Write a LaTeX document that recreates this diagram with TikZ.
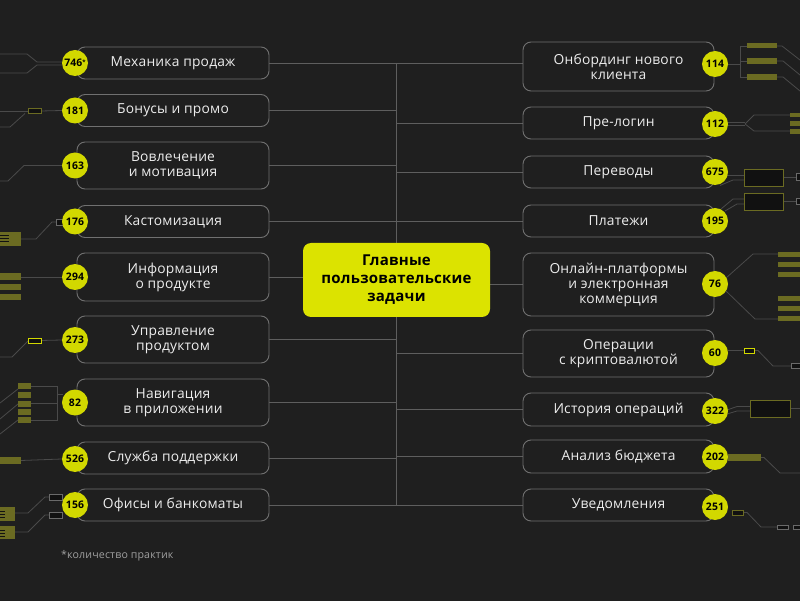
\documentclass[tikz,border=0pt]{standalone}
\usepackage{fontspec}
\setmainfont{Open Sans}[LetterSpace=1.5]
\definecolor{bgc}{HTML}{1F1F1F}
\definecolor{boxc}{HTML}{707070}
\definecolor{linec}{HTML}{5E5E5E}
\definecolor{decoc}{HTML}{4A4A4A}
\definecolor{yelc}{HTML}{D2D800}
\definecolor{cenc}{HTML}{DCE300}
\definecolor{olivec}{HTML}{6B6B22}
\definecolor{darkc}{HTML}{111111}
\definecolor{txtc}{HTML}{EDEDED}
\definecolor{grayframe}{HTML}{6A6A6A}
\definecolor{notec}{HTML}{A0A0A0}
\pgfdeclarelayer{back}
\pgfsetlayers{back,main}
\tikzset{
 box/.style={draw=boxc, line width=0.9pt, rounded corners=8pt, fill=bgc, text=txtc, align=center,
   font=\fontsize{13.8}{15}\selectfont, minimum width=192pt, inner sep=0pt},
 rbox/.style={box, minimum width=191pt},
 num/.style={circle, fill=yelc, minimum size=26pt, inner sep=0pt, text=black,
   font=\bfseries\fontsize{10.4}{10}\selectfont},
 conn/.style={draw=linec, line width=0.9pt},
 deco/.style={draw=decoc, line width=0.8pt},
 olivebar/.style={fill=olivec},
 oliveframe/.style={draw=olivec, line width=0.9pt, fill=darkc},
 yelframe/.style={draw=yelc, line width=0.9pt, fill=darkc},
 grayfr/.style={draw=grayframe, line width=0.9pt, fill=darkc},
 stripe/.style={draw=darkc, line width=0.6pt},
}
\begin{document}
\begin{tikzpicture}[x=1pt,y=-1pt]
\useasboundingbox (0,0) rectangle (800,601);

% ---------- boxes ----------
\node[box, minimum height=32pt] (L1) at (173,63) {Механика продаж};
\node[box, minimum height=32pt] (L2) at (173,110.5) {Бонусы и промо};
\node[box, minimum height=47pt] (L3) at (173,165.5) {Вовлечение\\и мотивация};
\node[box, minimum height=32pt] (L4) at (173,221.5) {Кастомизация};
\node[box, minimum height=48pt] (L5) at (173,277) {Информация\\о продукте};
\node[box, minimum height=47pt] (L6) at (173,339.5) {Управление\\продуктом};
\node[box, minimum height=47pt] (L7) at (173,402.5) {Навигация\\в приложении};
\node[box, minimum height=32pt] (L8) at (173,458) {Служба поддержки};
\node[box, minimum height=32pt] (L9) at (173,505) {Офисы и банкоматы};

\node[rbox, minimum height=49pt] (R1) at (618.5,66.5) {Онбординг нового\\клиента};
\node[rbox, minimum height=32pt] (R2) at (618.5,123) {Пре-логин};
\node[rbox, minimum height=32pt] (R3) at (618.5,172) {Переводы};
\node[rbox, minimum height=32pt] (R4) at (618.5,221) {Платежи};
\node[rbox, minimum height=63pt] (R5) at (618.5,284.5) {Онлайн-платформы\\и электронная\\коммерция};
\node[rbox, minimum height=47pt] (R6) at (618.5,353.5) {Операции\\с криптовалютой};
\node[rbox, minimum height=33pt] (R7) at (618.5,409.5) {История операций};
\node[rbox, minimum height=33pt] (R8) at (618.5,456.5) {Анализ бюджета};
\node[rbox, minimum height=32pt] (R9) at (618.5,505) {Уведомления};

\node[fill=cenc, rounded corners=8pt, minimum width=187pt, minimum height=74pt, inner sep=0pt,
  align=center, text=black, font=\bfseries\fontsize{15}{18}\selectfont] (C) at (396.5,280)
  {Главные\\пользовательские\\задачи};

% ---------- number circles ----------
\node[num] (n1) at (75,63) {746\raisebox{2.5pt}{\fontsize{6}{6}\selectfont*}};
\node[num] (n2) at (75,110.5) {181};
\node[num] (n3) at (75,165.5) {163};
\node[num] (n4) at (75,221.5) {176};
\node[num] (n5) at (75,277) {294};
\node[num] (n6) at (75,340) {273};
\node[num] (n7) at (75,402.5) {82};
\node[num] (n8) at (75,459) {526};
\node[num] (n9) at (75,505) {156};

\node[num] (m1) at (715,64) {114};
\node[num] (m2) at (715,124) {112};
\node[num] (m3) at (715,172) {675};
\node[num] (m4) at (715,221) {195};
\node[num] (m5) at (715,284) {76};
\node[num] (m6) at (715,353) {60};
\node[num] (m7) at (715,411) {322};
\node[num] (m8) at (715,457) {202};
\node[num] (m9) at (715,507) {251};

\node[anchor=west, text=notec, font=\fontsize{10.6}{12}\selectfont, inner sep=0pt] (note) at (61,556) {*количество практик};

\begin{pgfonlayer}{back}
\fill[bgc] (0,0) rectangle (800,601);

% ---------- connectors ----------
\draw[conn] (L1.east) -- (R1.west |- L1.east);
\draw[conn] (L1.east -| C.north) -- (C.north);
\draw[conn] (C.south) -- (L9.east -| C.south);
\draw[conn] (L9.east) -- (R9.west);
\foreach \b in {L2,L3,L4,L5,L6,L7,L8}{\draw[conn] (\b.east) -- (\b.east -| C.north);}
\foreach \b in {R2,R3,R4,R5,R6,R7,R8}{\draw[conn] (\b.west) -- (\b.west -| C.north);}

% ---------- left decorations ----------
% 1
\draw[deco] (0,54)--(27,54)--(37,62)--(n1.west |- 0,62);
\draw[deco] (0,73)--(27,73)--(37,65)--(n1.west |- 0,65);
% 2
\draw[deco] (0,111)--(28,111);
\draw[deco] (41,111)--(n2.west);
\draw[deco] (0,127)--(10,127)--(25,113.5);
\draw[oliveframe] (28,108.5) rectangle (41,113.5);
% 3
\draw[deco] (n3.west)--(24,165.5)--(8,181)--(0,181);
% 4
\draw[deco] (56,222)--(52,222)--(36,239)--(21,239);
\draw[grayfr] (56,219) rectangle (63,225);
\fill[olivec] (0,232) rectangle (21,246);
\draw[stripe] (0,235.5)--(9,235.5) (0,238.5)--(9,238.5) (0,241.5)--(9,241.5);
% 5
\fill[olivec] (0,273) rectangle (21,280);
\fill[olivec] (0,284) rectangle (21,290);
\fill[olivec] (0,294) rectangle (21,300);
\draw[deco] (21,277)--(n5.west);
% 6
\draw[deco] (41,340.5)--(n6.west);
\draw[deco] (0,357)--(12,357)--(28,341);
\draw[yelframe] (28,338) rectangle (41,343);
% 7
\draw[deco] (31,386)--(57,386)--(57,420)--(31,420);
\draw[deco] (31,403)--(57,403);
\draw[deco] (57,394)--(63,394);
\draw[deco] (0,403)--(18,389);
\draw[deco] (0,419)--(18,404);
\draw[deco] (0,434)--(18,420);
\foreach \yy in {383,392,401,409,417}{\fill[olivec] (18,\yy) rectangle (31,\yy+6);}
% 8
\fill[olivec] (0,457) rectangle (21,464);
\draw[deco] (21,460.5)--(n8.west);
% 9
\draw[deco] (15,513)--(28,513)--(45,497)--(49,497);
\draw[deco] (15,532)--(28,532)--(45,515)--(49,515);
\draw[grayfr] (49,494) rectangle (62,500);
\draw[grayfr] (49,512) rectangle (62,518);
\fill[olivec] (0,507) rectangle (15,521);
\fill[olivec] (0,526) rectangle (15,539);
\draw[stripe] (0,511)--(5,511) (0,514)--(5,514) (0,517)--(5,517);
\draw[stripe] (0,530)--(5,530) (0,533)--(5,533) (0,536)--(5,536);

% ---------- right decorations ----------
% R1
\draw[deco] (m1.east)--(740,64);
\draw[deco] (740,46)--(740,77);
\draw[deco] (740,46)--(747,46) (740,61)--(747,61) (740,77)--(747,77);
\draw[deco] (777,46)--(782,46)--(800,60);
\draw[deco] (777,61)--(783,61)--(800,75);
\draw[deco] (777,77)--(783,77)--(800,91);
\fill[olivec] (747,43) rectangle (777,48.5);
\fill[olivec] (747,58) rectangle (777,64);
\fill[olivec] (747,74) rectangle (777,80);
% R2
\draw[deco] (727,122.5)--(745,122.5);
\draw[deco] (727,125.5)--(745,125.5);
\draw[deco] (745,124)--(754,115)--(790,115);
\draw[deco] (745,124)--(754,131)--(790,131);
\fill[olivec] (790,113) rectangle (800,117);
\fill[olivec] (790,121) rectangle (800,126);
\fill[olivec] (790,129) rectangle (800,134);
% R3
\draw[deco] (727,175)--(744,175);
\draw[deco] (720,185.5)--(733,180)--(744,180);
\draw[deco] (783,177)--(796,177);
\draw[oliveframe] (744,169) rectangle (783,186);
\draw[grayfr] (796,173.5) rectangle (802,180.5);
% R4
\draw[deco] (721,209)--(733,199)--(744,199);
\draw[deco] (725,211)--(737,204)--(744,204);
\draw[deco] (783,201)--(796,201);
\draw[oliveframe] (744,193) rectangle (783,210);
\draw[grayfr] (796,198) rectangle (802,204.5);
% R5
\draw[deco] (726,278)--(753,254)--(778,254);
\draw[deco] (726,291)--(755,319)--(778,319);
\foreach \yy in {252,262,272,296,306,316}{\fill[olivec] (778,\yy) rectangle (800,\yy+5);}
% R6
\draw[deco] (m6.east |- 0,350.5)--(744,350.5);
\draw[deco] (754,350.5)--(758,350.5)--(773,366)--(791,366);
\draw[yelframe] (744,348) rectangle (754,353);
\draw[grayfr] (791,363.5) rectangle (802,368.5);
% R7
\draw[deco] (727,410)--(737,406.5)--(750,406.5);
\draw[deco] (727,414)--(737,411)--(750,411);
\draw[deco] (790,408)--(800,408);
\draw[oliveframe] (750,400) rectangle (790,417);
% R8
\fill[olivec] (728,454) rectangle (761,461);
\draw[deco] (761,457.5)--(764,457.5)--(780,473)--(800,473);
% R9
\draw[deco] (743,512.5)--(747,512.5)--(761,527)--(777,527);
\draw[oliveframe] (732,510) rectangle (743,515);
\draw[grayfr] (777,525) rectangle (788,529.5);
\draw[grayfr] (793,525) rectangle (802,529.5);
\end{pgfonlayer}
\end{tikzpicture}
\end{document}
